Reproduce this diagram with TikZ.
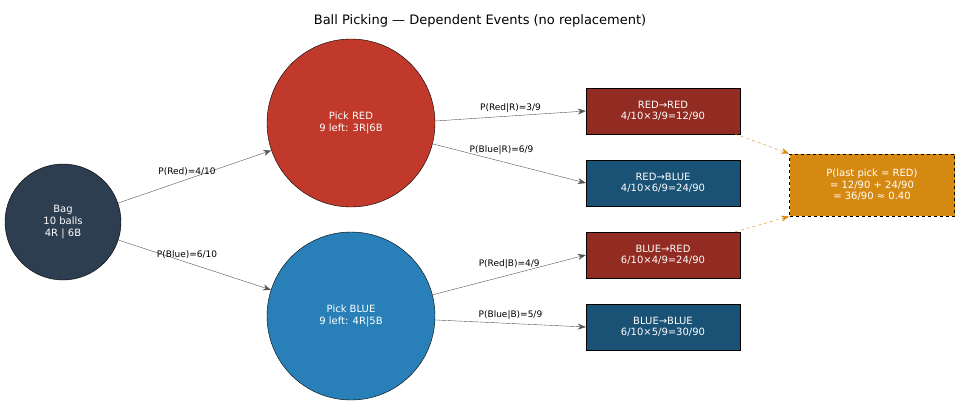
\documentclass[tikz,border=0pt]{standalone}
\usepackage{fontspec}
\setmainfont{DejaVu Sans}
\usetikzlibrary{arrows.meta}
\definecolor{bagc}{HTML}{2C3E50}
\definecolor{redc}{HTML}{C0392B}
\definecolor{bluec}{HTML}{2980B9}
\definecolor{dred}{HTML}{922B21}
\definecolor{dblue}{HTML}{1A5276}
\definecolor{orng}{HTML}{D68910}
\definecolor{edge}{HTML}{555555}
\begin{document}
\begin{tikzpicture}[x=1pt,y=-1pt,
  circ/.style={circle,draw=black,text=white,align=center,font=\fontsize{10}{12}\selectfont,inner sep=0pt},
  box/.style={draw=black,text=white,align=center,font=\fontsize{10}{11.5}\selectfont,minimum width=154pt,minimum height=46pt,inner sep=0pt},
  conn/.style={draw=edge,-{Stealth[length=8pt,width=6pt]}},
  lab/.style={font=\fontsize{9}{10}\selectfont,text=black},
  dconn/.style={draw=orng,dashed,-{Stealth[length=8pt,width=6pt]}}]
\useasboundingbox (0,0) rectangle (961,405);
\node[font=\fontsize{13}{15}\selectfont] (title) at (480,21) {Ball Picking — Dependent Events (no replacement)};
\node[circ,fill=bagc,minimum size=116pt] (bag) at (63,222) {Bag\\10 balls\\4R | 6B};
\node[circ,fill=redc,minimum size=168pt] (pr) at (351,123) {Pick RED\\9 left: 3R|6B};
\node[circ,fill=bluec,minimum size=168pt] (pb) at (351,316) {Pick BLUE\\9 left: 4R|5B};
\node[box,fill=dred] (rr) at (663,111) {RED→RED\\4/10×3/9=12/90};
\node[box,fill=dblue] (rb) at (663,183) {RED→BLUE\\4/10×6/9=24/90};
\node[box,fill=dred] (br) at (663,255) {BLUE→RED\\6/10×4/9=24/90};
\node[box,fill=dblue] (bb) at (663,327) {BLUE→BLUE\\6/10×5/9=30/90};
\node[draw=black,dashed,thick,fill=orng,text=white,align=center,font=\fontsize{10}{11.5}\selectfont,minimum width=165pt,minimum height=62pt,inner sep=0pt] (res) at (872,185) {P(last pick = RED)\\= 12/90 + 24/90\\= 36/90 ≈ 0.40};
\draw[conn] (bag) -- (pr) node[lab,pos=0.45,above] {P(Red)=4/10};
\draw[conn] (bag) -- (pb) node[lab,pos=0.45,above] {P(Blue)=6/10};
\draw[conn] (pr.east|-0,121) -- (rr.west) node[lab,pos=0.5,above] {P(Red|R)=3/9};
\draw[conn] (pr) -- (rb.west) node[lab,pos=0.45,above=3pt] {P(Blue|R)=6/9};
\draw[conn] (pb) -- (br.west) node[lab,pos=0.5,above=3pt] {P(Red|B)=4/9};
\draw[conn] (pb) -- (bb.west) node[lab,pos=0.5,above] {P(Blue|B)=5/9};
\draw[dconn] (rr.south east) ++(-5,0) coordinate (a1) (a1) -- (res.north west);
\draw[dconn] (br.north east) ++(-5,0) coordinate (a2) (a2) -- (res.south west);
\end{tikzpicture}
\end{document}
